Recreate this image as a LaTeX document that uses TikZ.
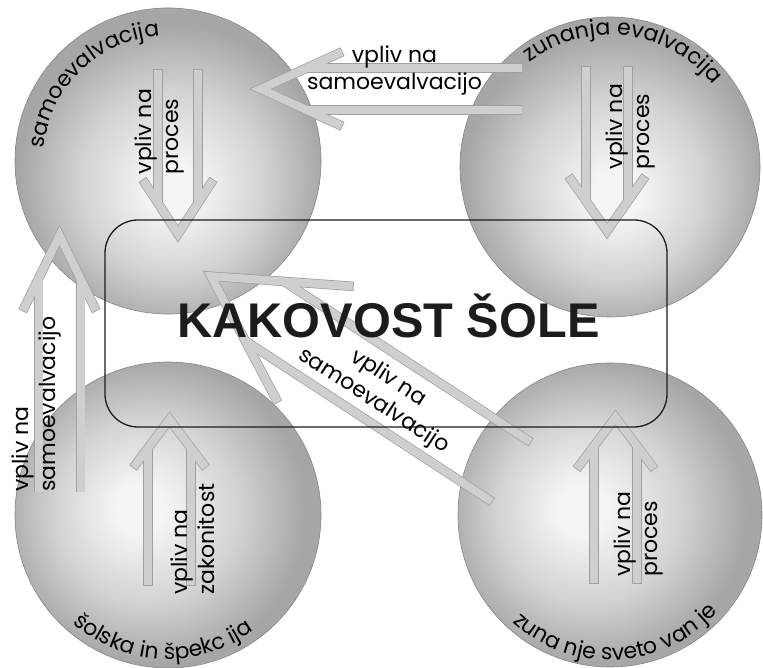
\documentclass[tikz,border=0pt]{standalone}
\usepackage{fontspec}
\usetikzlibrary{calc,decorations.text}

\newfontfamily\gothic{Poppins}
\newfontfamily\titlefont{Liberation Sans}
\newcommand\labelfont{\gothic\fontsize{22}{27}\selectfont}

\definecolor{ballhi}{HTML}{F5F5F5}
\definecolor{ballmid}{HTML}{D3D3D3}
\definecolor{ballrim}{HTML}{A6A6A6}
\definecolor{bandedge}{HTML}{A0A0A0}
\definecolor{bandbody}{HTML}{CFCFCF}
\definecolor{ink}{HTML}{1C1C1C}

% sphere-like fills: highlight a bit below (upper pair) or left (lower pair)
\pgfdeclareradialshading{balltop}{\pgfpoint{1bp}{-5bp}}{color(0bp)=(ballhi); color(4bp)=(ballhi); color(15bp)=(ballmid); color(25bp)=(ballrim); color(50bp)=(ballrim)}
\pgfdeclareradialshading{ballbottom}{\pgfpoint{-5bp}{1bp}}{color(0bp)=(ballhi); color(4bp)=(ballhi); color(15bp)=(ballmid); color(25bp)=(ballrim); color(50bp)=(ballrim)}

\tikzset{
  ball/.style={circle, inner sep=0pt, minimum size=#1, shade, draw=ballrim!80!black, line width=0.6pt},
  bandline/.style={draw=bandedge, line width=9.5pt, line join=miter},
  bandfill/.style={draw=bandbody, line width=8pt, line join=miter},
  label/.style={font=\labelfont, text=black, inner sep=0pt},
  frame/.style={draw=ink, line width=1.3pt, rounded corners=33pt, inner sep=0pt}
}

% open double-shafted arrow:
% #1,#2 tip (on the centre line), #3 direction, #4 half gap of the shafts,
% #5 half angle of the head, #6 barb overhang, #7 distance tip -> tail
\newcommand\hollowarrow[7]{%
  \begin{scope}[shift={(#1,#2)}, rotate=#3]
    \pgfmathsetmacro\hact{cot(#5)}
    \pgfmathsetmacro\hab{#4+#6}
    \pgfmathsetmacro\habx{-\hab*\hact}
    \pgfmathsetmacro\hajx{-#4*\hact}
    \draw[bandline, shorten <=-0.8pt, shorten >=-0.8pt] (\habx,\hab) -- (0,0) -- (\habx,-\hab);
    \draw[bandline, shorten <=-0.8pt] (-#7,#4) -- (\hajx,#4);
    \draw[bandline, shorten <=-0.8pt] (-#7,-#4) -- (\hajx,-#4);
    \draw[bandfill] (\habx,\hab) -- (0,0) -- (\habx,-\hab);
    \draw[bandfill] (-#7,#4) -- (\hajx,#4);
    \draw[bandfill] (-#7,-#4) -- (\hajx,-#4);
  \end{scope}}

\begin{document}
\begin{tikzpicture}[x=1pt, y=1pt]
  \useasboundingbox (0,0) rectangle (763,668);
  \fill[white] (0,0) rectangle (763,668);

  % the four spheres
  \node[ball=306pt, shading=balltop]    (samo)  at (168,507) {};
  \node[ball=300pt, shading=balltop]    (zunev) at (610,501) {};
  \node[ball=306pt, shading=ballbottom] (insp)  at (168,153) {};
  \node[ball=304pt, shading=ballbottom] (svet)  at (610,153) {};

  % curved titles of the spheres
  \path[decorate, decoration={text along path, text align=center,
      text={|\labelfont|samoevalvacija}}]
    ($(samo)+(194:125pt)$) arc[start angle=194, end angle=74, radius=125pt];
  \path[decorate, decoration={text along path, text align=center,
      text={|\labelfont|zunanja evalvacija}}]
    ($(zunev)+(153:132pt)$) arc[start angle=153, end angle=13, radius=132pt];
  \path[decorate, decoration={text along path, text align=center,
      text={|\labelfont|šolska in špekc ija}}]
    ($(insp)+(202.6:144pt)$) arc[start angle=202.6, end angle=332.6, radius=144pt];
  \path[decorate, decoration={text along path, text align=center,
      text={|\labelfont|zuna nje sveto van je}}]
    ($(svet)+(208:145pt)$) arc[start angle=208, end angle=338, radius=145pt];

  % influence arrows
  \hollowarrow{178}{434}{-90}{20}{33}{15}{164}
  \hollowarrow{607}{437}{-90}{21}{35}{17}{164}
  \hollowarrow{260.6}{579}{180}{21}{24.5}{16}{261}
  \hollowarrow{59.5}{432.4}{90}{21}{26}{15.5}{256}
  \hollowarrow{169.5}{248.5}{90}{21.5}{37}{14.5}{165.5}
  \hollowarrow{615.5}{250.5}{90}{21.5}{37}{17}{165.5}
  \hollowarrow{211}{391.8}{146.9}{35.5}{29}{33.5}{358}

  % central frame and title
  \node[frame, minimum width=562pt, minimum height=207pt] (kakovost) at (386,344.5) {};
  \node[font=\titlefont\bfseries\fontsize{48.7}{58}\selectfont, text=ink, anchor=base, inner sep=0pt]
    (title) at (388.5,330) {KAKOVOST ŠOLE};

  % arrow labels
  \node[label, rotate=90, anchor=west, align=left] (lblsamo)  at (159.5,493.5) {vpliv na\\proces};
  \node[label, rotate=90, anchor=west, align=left] (lblzunev) at (630.5,498.5) {vpliv na\\proces};
  \node[label, align=center] (lbltop) at (394.5,597) {vpliv na\\samoevalvacijo};
  \node[label, rotate=90, anchor=west, align=left] (lblleft) at (36.5,176) {vpliv na\\samoevalvacijo};
  \node[label, rotate=90, anchor=west, align=left] (lblinsp) at (192.5,73) {vpliv na\\zakonitost};
  \node[label, rotate=90, anchor=west, align=left] (lblsvet) at (638.5,91) {vpliv na\\proces};
  \node[label, rotate=-33.1, align=center] (lbldiag) at (381,278) {vpliv na\\samoevalvacijo};
\end{tikzpicture}
\end{document}
